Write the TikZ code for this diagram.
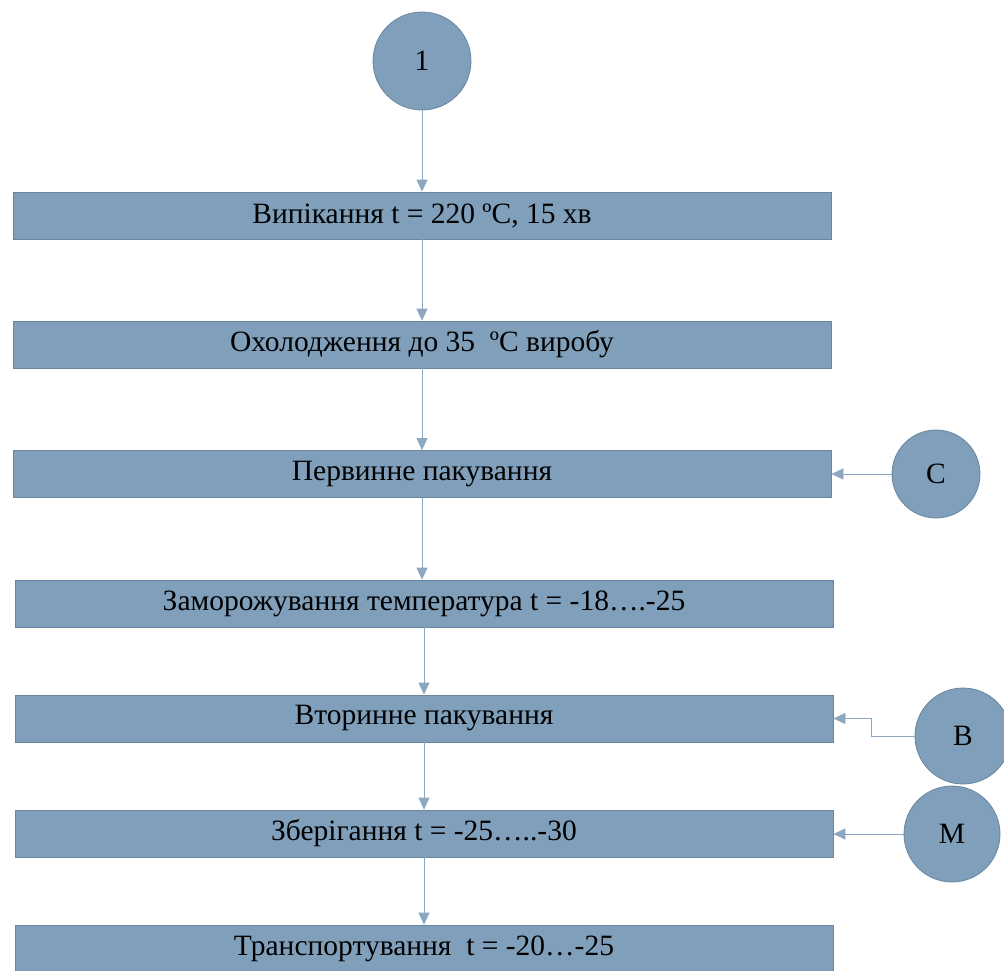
\documentclass[tikz,border=0pt]{standalone}
\usepackage{fontspec}
\setmainfont{Liberation Serif}
\usetikzlibrary{arrows.meta}
\definecolor{boxfill}{RGB}{127,159,186}
\definecolor{boxedge}{RGB}{104,134,160}
\definecolor{linkcol}{RGB}{140,167,192}
\tikzset{
  stage/.style={draw=boxedge, fill=boxfill, line width=0.8pt, minimum width=818pt, minimum height=47pt, inner sep=0pt, font=\fontsize{29.5}{34}\selectfont},
  marker/.style={circle, draw=boxedge, fill=boxfill, line width=0.8pt, inner sep=0pt, font=\fontsize{29.5}{34}\selectfont},
  link/.style={draw=linkcol, line width=0.8pt, -{Triangle[length=12pt, width=11pt]}}
}
\begin{document}
\begin{tikzpicture}[x=1pt, y=-1pt]
\useasboundingbox (0,0) rectangle (1004,970);
% process stages
\node[stage] (s1) at (422,215.5) {Випікання t = 220 ºC, 15 хв};
\node[stage] (s2) at (422,344.5) {Охолодження до 35\ \ ºC виробу};
\node[stage] (s3) at (422,474) {Первинне пакування};
\node[stage] (s4) at (424,603.5) {Заморожування температура t = -18….-25};
\node[stage] (s5) at (424,718.5) {Вторинне пакування};
\node[stage] (s6) at (424,833.5) {Зберігання t = -25…..-30};
\node[stage] (s7) at (424,948.5) {Транспортування\ \ t = -20…-25};
% input markers
\node[marker, minimum size=98pt] (m1) at (422,61) {1};
\node[marker, minimum size=88pt] (mc) at (936,474) {C};
\node[marker, minimum size=96pt] (mb) at (963,736) {B};
\node[marker, minimum size=96pt] (mm) at (952,834) {M};
% flow
\draw[link] (m1.south) -- (s1.north -| m1.south);
\draw[link] (s1.south) -- (s2.north);
\draw[link] (s2.south) -- (s3.north);
\draw[link] (s3.south) -- (s4.north -| s3.south);
\draw[link] (s4.south) -- (s5.north);
\draw[link] (s5.south) -- (s6.north);
\draw[link] (s6.south) -- (s7.north);
\draw[link] (mc.west) -- (mc.west -| s3.east);
\coordinate (bk) at (871,736);
\draw[link] (mb.west) -- (bk) |- (s5.east);
\draw[link] (mm.west) -- (mm.west -| s6.east);
\end{tikzpicture}
\end{document}
